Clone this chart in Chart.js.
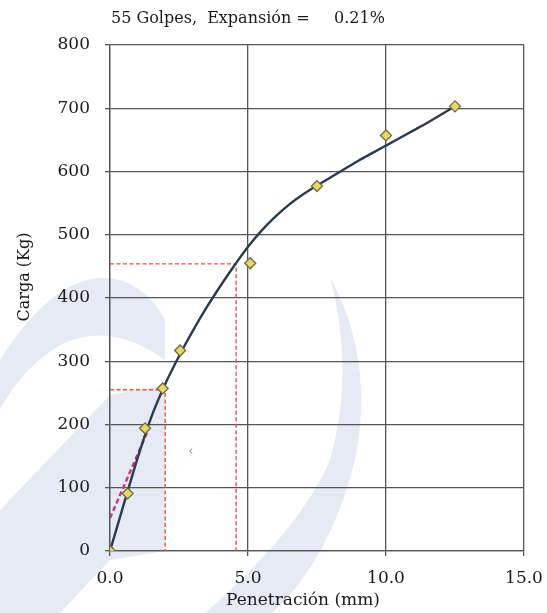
<!DOCTYPE html>
<html>
<head>
<meta charset="utf-8">
<script src="https://cdn.jsdelivr.net/npm/chart.js@4/dist/chart.umd.min.js"></script>
<style>
html,body{margin:0;padding:0;background:#fff;}
#wrap{width:547px;height:613px;}
</style>
</head>
<body>
<div id="wrap"><canvas id="c" width="547" height="613"></canvas></div>
<script>
// Data
const penetration = [0, 0.64, 1.27, 1.91, 2.54, 5.08, 7.5, 10.0, 12.5];
const load = [0, 91, 194, 257, 317, 455, 577, 657, 703];
// fitted curve
const curveX = [0, 0.5, 1.0, 1.5, 2.0, 2.5, 3.0, 3.5, 4.0, 4.5, 5.0, 5.5, 6.0, 6.5, 7.0, 7.5, 8.0, 8.5, 9.0, 9.5, 10.0, 10.5, 11.0, 11.5, 12.0, 12.5];
const curveY = [0, 74, 147, 212, 264, 308, 348, 385, 419, 451, 481, 507, 529, 548, 564, 578, 591, 604, 617, 629, 641, 653, 665, 677, 690, 703];
// correction (tangent) line
const tangentX = [0, 1.4];
const tangentY = [52, 193];
// reading guides
const guide1X = [0, 2.0, 2.0];
const guide1Y = [255, 255, 0];
const guide2X = [0, 4.57, 4.57];
const guide2Y = [454, 454, 0];
const titleText = "55 Golpes,  Expansión =";
const titleValue = "0.21%";
const xTitle = "Penetración (mm)";
const yTitle = "Carga (Kg)";

const pts = (xs, ys) => xs.map((x, i) => ({x: x, y: ys[i]}));
const FONT = "'DejaVu Serif', 'Liberation Serif', serif";

function drawWatermark(ctx) {
  ctx.save();
  ctx.fillStyle = 'rgba(205,214,234,0.5)';
  // right crescent
  ctx.beginPath();
  ctx.moveTo(330, 277);
  ctx.quadraticCurveTo(375, 360, 355, 460);
  ctx.quadraticCurveTo(330, 560, 272, 613);
  ctx.lineTo(205, 613);
  ctx.quadraticCurveTo(300, 530, 330, 460);
  ctx.quadraticCurveTo(355, 370, 330, 277);
  ctx.closePath();
  ctx.fill();
  // upper-left arc band
  ctx.beginPath();
  ctx.moveTo(0, 360);
  ctx.quadraticCurveTo(60, 265, 120, 280);
  ctx.quadraticCurveTo(150, 290, 165, 320);
  ctx.lineTo(165, 360);
  ctx.quadraticCurveTo(110, 320, 60, 345);
  ctx.quadraticCurveTo(20, 370, 0, 410);
  ctx.closePath();
  ctx.fill();
  // lower-left diagonal band
  ctx.beginPath();
  ctx.moveTo(0, 510);
  ctx.lineTo(110, 395);
  ctx.lineTo(165, 385);
  ctx.lineTo(165, 551);
  ctx.lineTo(110, 560);
  ctx.lineTo(60, 613);
  ctx.lineTo(0, 613);
  ctx.closePath();
  ctx.fill();
  ctx.restore();
}

const bgPlugin = {
  id: 'bg',
  beforeDraw(chart) {
    const ctx = chart.ctx;
    ctx.save();
    ctx.fillStyle = '#ffffff';
    ctx.fillRect(0, 0, chart.width, chart.height);
    ctx.restore();
    drawWatermark(ctx);
  },
  afterDraw(chart) {
    const ctx = chart.ctx;
    ctx.save();
    ctx.fillStyle = '#1a1a1a';
    ctx.font = "16px " + FONT;
    ctx.textBaseline = 'middle';
    ctx.textAlign = 'left';
    ctx.fillText(titleText, 111, 19);
    ctx.fillText(titleValue, 334, 19);
    // x axis title
    ctx.textAlign = 'center';
    ctx.font = "17px " + FONT;
    ctx.fillText(xTitle, 303, 601);
    // y axis title
    ctx.font = "16px " + FONT;
    ctx.translate(25, 277);
    ctx.rotate(-Math.PI / 2);
    ctx.fillText(yTitle, 0, 0);
    ctx.restore();
    // stray pen mark
    ctx.save();
    ctx.fillStyle = '#e0508a';
    ctx.font = "12px " + FONT;
    ctx.textAlign = 'center';
    ctx.textBaseline = 'middle';
    ctx.fillText('‹', 191, 452);
    ctx.restore();
  }
};

new Chart(document.getElementById('c'), {
  type: 'scatter',
  data: {
    datasets: [
      {
        label: 'guide1', data: pts(guide1X, guide1Y), showLine: true,
        borderColor: '#e8503a', borderWidth: 1.4, borderDash: [4, 2.5],
        pointRadius: 0, fill: false, tension: 0, order: 5
      },
      {
        label: 'guide2', data: pts(guide2X, guide2Y), showLine: true,
        borderColor: '#e8503a', borderWidth: 1.4, borderDash: [4, 2.5],
        pointRadius: 0, fill: false, tension: 0, order: 5
      },
      {
        label: 'tangent', data: pts(tangentX, tangentY), showLine: true,
        borderColor: '#c8367a', borderWidth: 2.4, borderDash: [5, 3],
        pointRadius: 0, fill: false, tension: 0, order: 4
      },
      {
        label: 'curve', data: pts(curveX, curveY), showLine: true,
        borderColor: '#2a3b50', borderWidth: 2.4,
        pointRadius: 0, fill: false, cubicInterpolationMode: 'monotone', order: 3
      },
      {
        label: 'data', data: pts(penetration, load), showLine: false,
        pointStyle: 'rectRot', pointRadius: 5.5, pointHoverRadius: 5.5,
        backgroundColor: '#e6d66e', borderColor: '#6f6d35', borderWidth: 1.3, order: 1
      }
    ]
  },
  options: {
    responsive: false,
    animation: false,
    devicePixelRatio: 1,
    layout: { padding: { left: 0, right: 23, top: 45, bottom: 0 } },
    plugins: {
      legend: { display: false },
      tooltip: { enabled: false },
      title: { display: false }
    },
    scales: {
      x: {
        type: 'linear', min: 0, max: 15,
        ticks: {
          stepSize: 5, color: '#1a1a1a', padding: 12,
          font: { family: FONT, size: 17 },
          callback: v => Number(v).toFixed(1)
        },
        grid: { color: '#555555', lineWidth: 1.3, tickLength: 5, drawTicks: true },
        border: { color: '#555555', width: 1.3 },
        title: { display: false },
        afterFit: s => { s.height = 62; s.paddingLeft = 0; s.paddingRight = 0; }
      },
      y: {
        type: 'linear', min: 0, max: 800,
        ticks: {
          stepSize: 100, color: '#1a1a1a', padding: 15,
          font: { family: FONT, size: 17 }
        },
        grid: { color: '#555555', lineWidth: 1.3, tickLength: 5, drawTicks: true },
        border: { color: '#555555', width: 1.3 },
        title: { display: false },
        afterFit: s => { s.width = 110; s.paddingTop = 0; s.paddingBottom = 0; }
      }
    }
  },
  plugins: [bgPlugin]
});
</script>
</body>
</html>
